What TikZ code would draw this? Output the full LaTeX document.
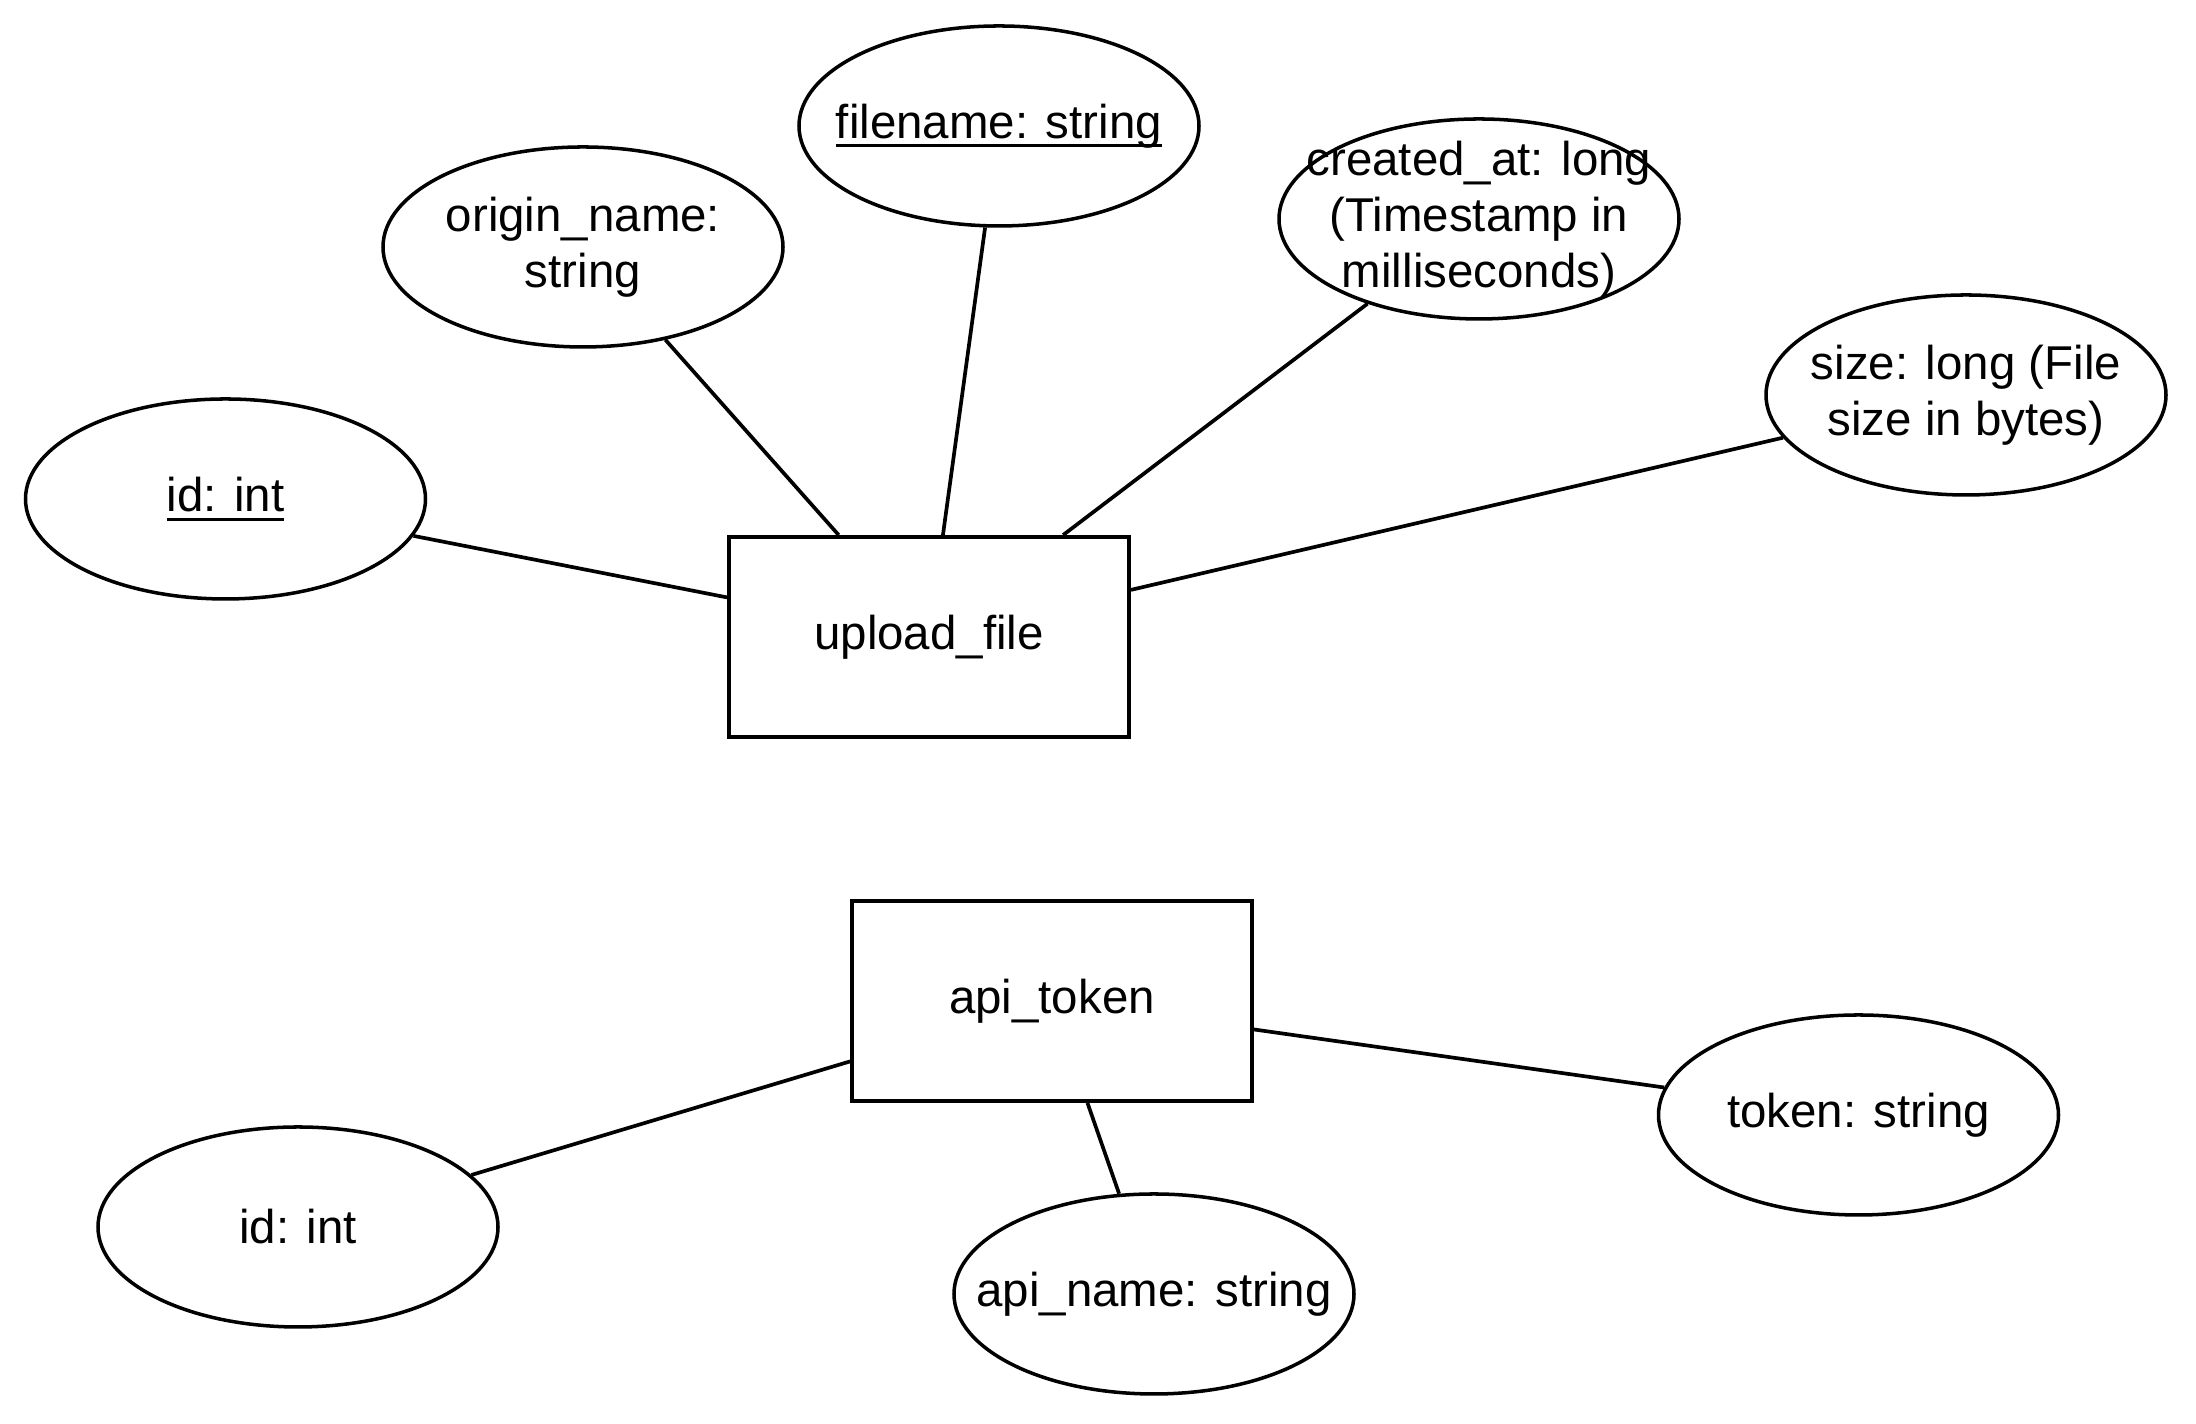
\documentclass[tikz,border=0pt]{standalone}
\usepackage{fontspec}
\setmainfont{Liberation Sans}
\usepackage{tikz}
\usetikzlibrary{shapes.geometric}
\newcommand{\keyline}[1]{\setbox0\hbox{#1}\rlap{\usebox0}\rule[-2.6pt]{\wd0}{0.9pt}}
\tikzstyle{entity} = [rectangle, minimum width=4cm, minimum height=2cm, text centered, draw=black, line width=1.1pt, font=\fontsize{13.5}{16}\selectfont]
\tikzstyle{attrib} = [ellipse, minimum width=4cm, minimum height=2cm, inner sep=-0.4cm, align=center, draw=black, line width=1pt, font=\fontsize{13.5}{16}\selectfont]
\tikzstyle{link} = [line width=1.05pt]

\begin{document}
\begin{tikzpicture}
        \useasboundingbox (0,0) rectangle (21.96,14.24);
        \node (upload) [entity] at (9.29,7.87) {upload\_file};
        \node (uid) [attrib] at (2.255,9.25) {\keyline{id: int}};
        \node (origin) [attrib] at (5.83,11.77) {origin\_name:\\string};
        \node (fname) [attrib] at (9.99,12.98) {\keyline{filename: string}};
        \node (created) [attrib] at (14.79,12.05) {created\_at: long\\(Timestamp in\\milliseconds)};
        \node (size) [attrib] at (19.66,10.29) {size: long (File\\size in bytes)};
        \node (token) [entity] at (10.52,4.23) {api\_token};
        \node (tid) [attrib] at (2.98,1.97) {id: int};
        \node (apiname) [attrib] at (11.54,1.30) {api\_name: string};
        \node (tok) [attrib] at (18.585,3.09) {token: string};
        \draw [link] (uid) -- (upload);
        \draw [link] (origin) -- (upload);
        \draw [link] (fname) -- (upload);
        \draw [link] (created) -- (upload);
        \draw [link] (size) -- (upload);
        \draw [link] (tid) -- (token);
        \draw [link] (apiname) -- (token);
        \draw [link] (tok) -- (token);
    \end{tikzpicture}
\end{document}
